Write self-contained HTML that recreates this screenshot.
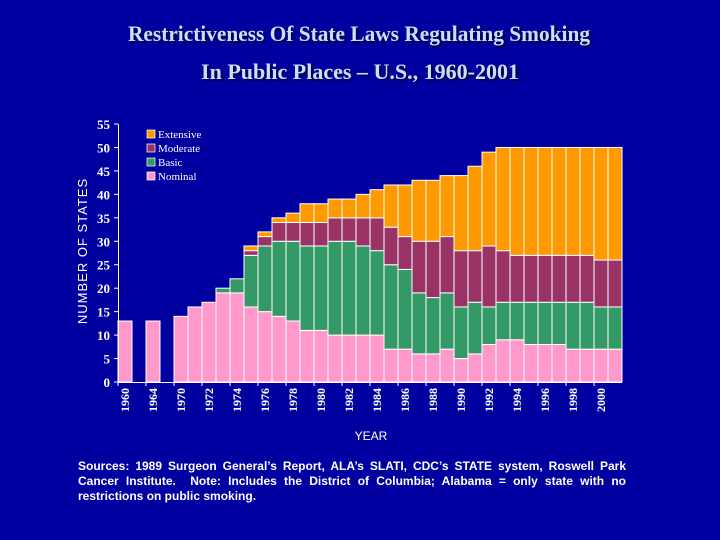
<!DOCTYPE html>
<html><head><meta charset="utf-8"><style>
html,body{margin:0;padding:0;background:#0000A0;}
svg{display:block;}
</style></head><body>
<svg id="c" width="720" height="540" xmlns="http://www.w3.org/2000/svg">
<rect x="0" y="0" width="720" height="540" fill="#0000A0"/>
<g font-family="Liberation Serif, serif" font-weight="bold" font-size="22" fill="#C8E0F8" text-anchor="middle">
<text x="361" y="43" fill="#00004a" textLength="462" lengthAdjust="spacingAndGlyphs">Restrictiveness Of State Laws Regulating Smoking</text>
<text x="359" y="41" textLength="462" lengthAdjust="spacingAndGlyphs">Restrictiveness Of State Laws Regulating Smoking</text>
<text x="362" y="81" fill="#00004a" textLength="318" lengthAdjust="spacingAndGlyphs">In Public Places – U.S., 1960-2001</text>
<text x="360" y="79" textLength="318" lengthAdjust="spacingAndGlyphs">In Public Places – U.S., 1960-2001</text>
</g>
<g id="bars"></g>
<g id="axes"></g>
<text x="87" y="251" transform="rotate(-90 87 251)" font-family="Liberation Sans, sans-serif" font-size="13" letter-spacing="1" fill="#fff" text-anchor="middle">NUMBER OF STATES</text>
<text x="371" y="440" font-family="Liberation Sans, sans-serif" font-size="12" fill="#fff" text-anchor="middle">YEAR</text>
<g id="legend"></g>
<foreignObject x="78" y="459" width="548" height="50">
<div xmlns="http://www.w3.org/1999/xhtml" style="font-family:'Liberation Sans',sans-serif;font-weight:bold;font-size:12px;line-height:15px;color:#fff;text-align:justify;">Sources: 1989 Surgeon General’s Report, ALA’s SLATI, CDC’s STATE system, Roswell Park Cancer Institute. &nbsp;Note: Includes the District of Columbia; Alabama = only state with no restrictions on public smoking.</div>
</foreignObject>
</svg>
<script>
const years=[1960,1964,1970,1971,1972,1973,1974,1975,1976,1977,1978,1979,1980,1981,1982,1983,1984,1985,1986,1987,1988,1989,1990,1991,1992,1993,1994,1995,1996,1997,1998,1999,2000,2001];
const nominal=[13,13,14,16,17,19,19,16,15,14,13,11,11,10,10,10,10,7,7,6,6,7,5,6,8,9,9,8,8,8,7,7,7,7];
const basic=[0,0,0,0,0,1,3,11,14,16,17,18,18,20,20,19,18,18,17,13,12,12,11,11,8,8,8,9,9,9,10,10,9,9];
const moderate=[0,0,0,0,0,0,0,1,2,4,4,5,5,5,5,6,7,8,7,11,12,12,12,11,13,11,10,10,10,10,10,10,10,10];
const extensive=[0,0,0,0,0,0,0,1,1,1,2,4,4,4,4,5,6,9,11,13,13,13,16,18,20,22,23,23,23,23,23,23,24,24];
const yTicks=[0,5,10,15,20,25,30,35,40,45,50,55];
const xTickYears=[1960,1964,1970,1972,1974,1976,1978,1980,1982,1984,1986,1988,1990,1992,1994,1996,1998,2000];
const seriesNames=['Extensive','Moderate','Basic','Nominal'];
const NS='http://www.w3.org/2000/svg';
const X0=118,SW=14,Y0=382,YT=124,YMAX=55;
function slot(yr){return yr===1960?0:yr===1964?2:4+(yr-1970);}
function xs(yr){return X0+slot(yr)*SW;}
function ys(v){return Y0-v*(Y0-YT)/YMAX;}
function mk(t,a,p){const e=document.createElementNS(NS,t);for(const k in a)e.setAttribute(k,a[k]);p.appendChild(e);return e;}
const colors={Nominal:'#FF99CC',Basic:'#339966',Moderate:'#993366',Extensive:'#FF9900'};
const bars=document.getElementById('bars');
years.forEach((yr,i)=>{
  const parts=[['Nominal',nominal[i]],['Basic',basic[i]],['Moderate',moderate[i]],['Extensive',extensive[i]]];
  let acc=0;
  parts.forEach(([n,v])=>{
    if(v<=0)return;
    const r=mk('rect',{x:xs(yr),y:ys(acc+v),width:SW,height:ys(acc)-ys(acc+v),fill:colors[n],stroke:'#fff','stroke-width':1},bars);
    
    
    acc+=v;
  });
});
const ax=document.getElementById('axes');
const yl=mk('line',{x1:X0+0.5,y1:YT,x2:X0+0.5,y2:Y0,stroke:'#fff','stroke-width':1},ax);


const xl=mk('line',{x1:X0,y1:Y0+0.5,x2:X0+36*SW,y2:Y0+0.5,stroke:'#fff','stroke-width':1},ax);


yTicks.forEach(v=>{
  mk('line',{x1:X0-4,y1:ys(v),x2:X0,y2:ys(v),stroke:'#fff'},ax);
  const t=mk('text',{x:110,y:ys(v)+5,'font-family':'Liberation Serif, serif','font-weight':'bold','font-size':13,fill:'#fff','text-anchor':'end'},ax);
  t.textContent=v;
  
  
});
xTickYears.forEach(yr=>{
  const x=xs(yr);
  mk('line',{x1:x,y1:Y0,x2:x,y2:Y0+4,stroke:'#fff'},ax);
  const cx=x+SW/2+4;
  const t=mk('text',{x:cx,y:388,'font-family':'Liberation Serif, serif','font-weight':'bold','font-size':12,fill:'#fff','text-anchor':'end',transform:'rotate(-90 '+cx+' 388)'},ax);
  t.textContent=yr;
  
  
});
const lg=document.getElementById('legend');
seriesNames.forEach((n,i)=>{
  const y=130+i*14;
  const s=mk('rect',{x:147,y:y,width:8,height:8,fill:colors[n],stroke:'#fff','stroke-width':0.7},lg);
  
  
  const t=mk('text',{x:158,y:y+8,'font-family':'Liberation Serif, serif','font-size':11,fill:'#fff'},lg);
  t.textContent=n;
  
  
});
</script>
</body></html>
